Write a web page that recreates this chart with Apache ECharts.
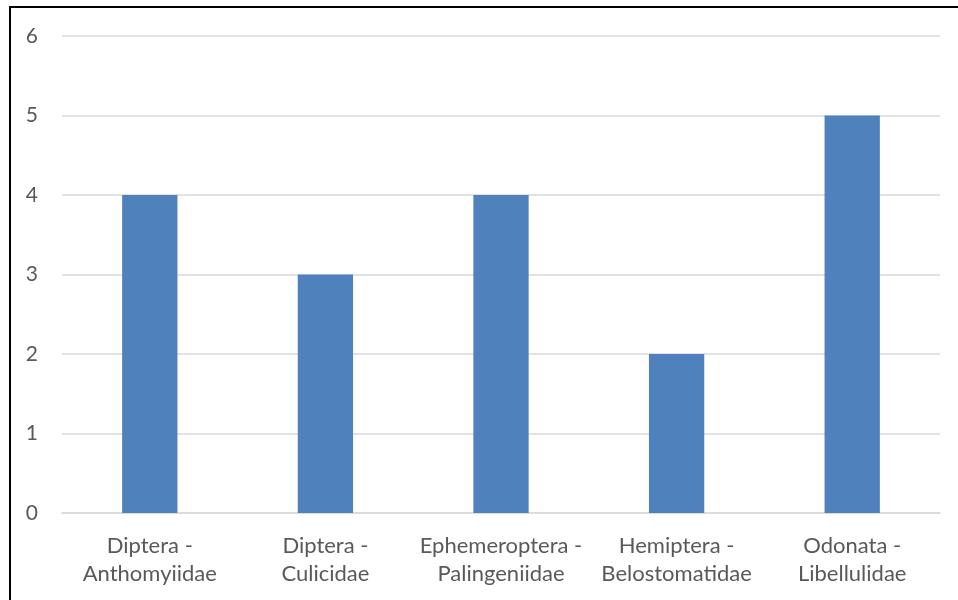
<!DOCTYPE html>
<html>
<head>
<meta charset="utf-8">
<script src="https://cdn.jsdelivr.net/npm/echarts@6/dist/echarts.min.js"></script>
<style>
html,body{margin:0;padding:0;background:#fff;}
#frame{position:absolute;left:9px;top:6px;width:960px;height:600px;border-left:2px solid #000;border-top:2px solid #000;}
#c{position:absolute;left:0;top:0;width:958px;height:600px;}
</style>
</head>
<body>
<div id="frame"></div>
<div id="c"></div>
<script>
const categories = ['Diptera -\nAnthomyiidae','Diptera -\nCulicidae','Ephemeroptera -\nPalingeniidae','Hemiptera -\nBelostomatidae','Odonata -\nLibellulidae'];
const values = [4,3,4,2,5];
const chart = echarts.init(document.getElementById('c'));
chart.setOption({
  animation:false,
  grid:{left:62,right:18,top:36,bottom:87},
  xAxis:{type:'category',data:categories,
    axisLine:{lineStyle:{color:'#d9d9d9',width:1.5}},axisTick:{show:false},
    axisLabel:{color:'#595959',fontSize:22,lineHeight:28,margin:19,fontFamily:'Lato, Liberation Sans, sans-serif',interval:0}},
  yAxis:{type:'value',min:0,max:6,interval:1,
    axisLine:{show:false},axisTick:{show:false},
    splitLine:{lineStyle:{color:'#d9d9d9',width:1.5}},
    axisLabel:{color:'#595959',fontSize:21,margin:24,fontFamily:'Lato, Liberation Sans, sans-serif'}},
  series:[{type:'bar',data:values,barWidth:'31.5%',itemStyle:{color:'#4f81bd'}}]
});
</script>
</body>
</html>
